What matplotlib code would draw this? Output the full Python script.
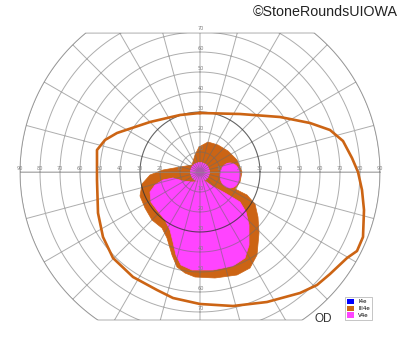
import numpy as np
import matplotlib
matplotlib.use("Agg")
import matplotlib.pyplot as plt
from matplotlib.patches import Polygon, Circle, Ellipse, Patch


# isopter data, degrees of visual field (x = right, y = up)

# III4e outer isopter (drawn as a line)
outer_x = [0, 20, 40, 55, 65, 71.5, 76, 79, 81, 82, 81.5, 78.5, 73.5, 65, 58.5,
           50, 33.5, 16.5, 0, -13.5, -21.5, -33.5, -43.5, -48.5, -51, -51.5,
           -51.5, -47.5, -41.5, -25, -10]
outer_y = [29.5, 29, 27.5, 24.5, 21, 15.5, 7, 0, -9, -19, -32.5, -39.5, -43,
           -51, -56.5, -60.5, -65, -67, -66, -63, -59, -52.5, -43, -32.5,
           -20.5, -4, 11, 16, 19.5, 25, 28.5]

# III4e scotoma (filled orange)
scot3_x = [4, 9, 14, 18.5, 21, 20, 17.5, 23.5, 27.5, 29, 29.5, 28.5, 25, 18.5,
           7.5, -2.5, -7.5, -11.5, -14, -16.5, -19, -24, -27.5, -30, -29, -25,
           -18.5, -10, -4, -2.5, -0.5]
scot3_y = [15, 13.5, 10.5, 6, 0, -5, -8.5, -11.5, -16, -22.5, -30.5, -41.5,
           -48, -51.5, -53, -52.5, -50.5, -47.5, -41.5, -33, -28, -24, -18,
           -12, -6, -1.5, 1, 2.5, 3.5, 8.5, 12.5]

# V4e scotoma (filled magenta)
scot5_x = [-4, -8.5, -13.5, -18.5, -22.5, -25, -24.5, -21.5, -17.5, -15, -13.5,
           -12, -9.5, -4, 6.5, 16.5, 22.5, 24.5, 24.5, 23, 20, 12.5, 6, 2.5]
scot5_y = [-5, -4.5, -3, -4, -6.5, -10, -15, -19, -24, -29, -35, -41.5, -46.5,
           -49, -49, -47, -43, -36.5, -26.5, -20, -15, -10.5, -7, -4.5]
central_r = 4.75                     # central V4e scotoma
blind_spot = (15, -1.75, 10, 12.5)   # centre x, centre y, width, height

rings = [10, 20, 30, 40, 50, 60, 70, 80, 90]
meridians = list(range(0, 360, 15))
axis_labels = ["10", "20", "30", "40", "50", "60", "70", "80", "90"]

legend_names = ["I4e", "III4e", "V4e"]
legend_colors = ["#0000ff", "#cc6a14", "#ff44ff"]

ORANGE = "#cc6414"
MAGENTA = "#ff44ff"

fig = plt.figure(figsize=(4.0, 3.52), dpi=100)
ax = fig.add_axes([0, 0, 1, 1])
ax.set_xlim(-100, 100)
ax.set_ylim(-90, 86)
ax.set_aspect("equal")
ax.axis("off")

# region the grid lives in: 90 deg circle cut flat at top and bottom
t = np.linspace(0, 2 * np.pi, 721)
bx = 90 * np.cos(t)
by = np.clip(90 * np.sin(t), -74, 69.5)
clip_poly = Polygon(np.column_stack([bx, by]), closed=True,
                    facecolor="none", edgecolor="none")
ax.add_patch(clip_poly)

# fills
ax.add_patch(Polygon(np.column_stack([scot3_x, scot3_y]), closed=True,
                     facecolor=ORANGE, edgecolor=ORANGE, lw=0.5, zorder=2))
ax.add_patch(Polygon(np.column_stack([scot5_x, scot5_y]), closed=True,
                     facecolor=MAGENTA, edgecolor=MAGENTA, lw=0.5, zorder=3))
ax.add_patch(Circle((0, 0), central_r, facecolor=MAGENTA, edgecolor=MAGENTA,
                    lw=0.5, zorder=3))
ax.add_patch(Ellipse(blind_spot[:2], blind_spot[2], blind_spot[3],
                     facecolor=MAGENTA, edgecolor=MAGENTA, lw=0.5, zorder=3))

# grid on top of the fills, each set as one path so overlaps don't stack
gx, gy = [], []
for r in rings:
    if r == 30:
        continue
    gx += list(r * np.cos(t)) + [np.nan]
    gy += list(r * np.sin(t)) + [np.nan]
for m in meridians:
    a = np.deg2rad(m)
    gx += [0, 100 * np.cos(a), np.nan]
    gy += [0, 100 * np.sin(a), np.nan]
ln, = ax.plot(gx, gy, color="#6a6a6a", alpha=0.55, lw=0.7, zorder=4)
ln.set_clip_path(clip_poly)

ax.plot(30 * np.cos(t), 30 * np.sin(t), color="#303030", alpha=0.75,
        lw=0.8, zorder=4)
ax.plot(bx, by, color="#6a6a6a", alpha=0.55, lw=0.7, zorder=4)
ax.plot([-90, 90], [0, 0], color="#909090", alpha=0.5, lw=0.7, zorder=4)

# outer isopter
ax.plot(outer_x + outer_x[:1], outer_y + outer_y[:1], color=ORANGE, lw=1.9,
        solid_joinstyle="round", zorder=5)

# axis numbers
lab_kw = dict(fontsize=3.6, color="#808080", ha="center", va="center",
              zorder=6)
for r, s in zip(rings, axis_labels):
    ax.text(-r, 1.5, s, **lab_kw)
    ax.text(r, 1.5, s, **lab_kw)
    if r <= 70:
        ax.text(0.5, r + 1.5, s, **lab_kw)
        ax.text(0.5, -r + 1.5, s, **lab_kw)

ax.text(61.5, -73.5, "OD", fontsize=8.5, color="#333333", ha="center",
        va="center", family="Liberation Sans")

handles = [Patch(facecolor=c, edgecolor="none") for c in legend_colors]
leg = ax.legend(handles, legend_names, loc="upper left",
                bbox_to_anchor=(345 / 400, 1 - 297 / 352), fontsize=4,
                handlelength=1.3, handleheight=1.2, handletextpad=0.8,
                borderpad=0.3, labelspacing=0.2, frameon=True, fancybox=False,
                borderaxespad=0)
leg.get_frame().set_edgecolor("#aaaaaa")
leg.get_frame().set_linewidth(0.6)

fig.text(398 / 400, 1 - 12 / 352, "\u00a9StoneRoundsUIOWA", fontsize=10.3,
         color="#222222", ha="right", va="center", family="Liberation Sans")

fig.savefig("out.png", dpi=100)
